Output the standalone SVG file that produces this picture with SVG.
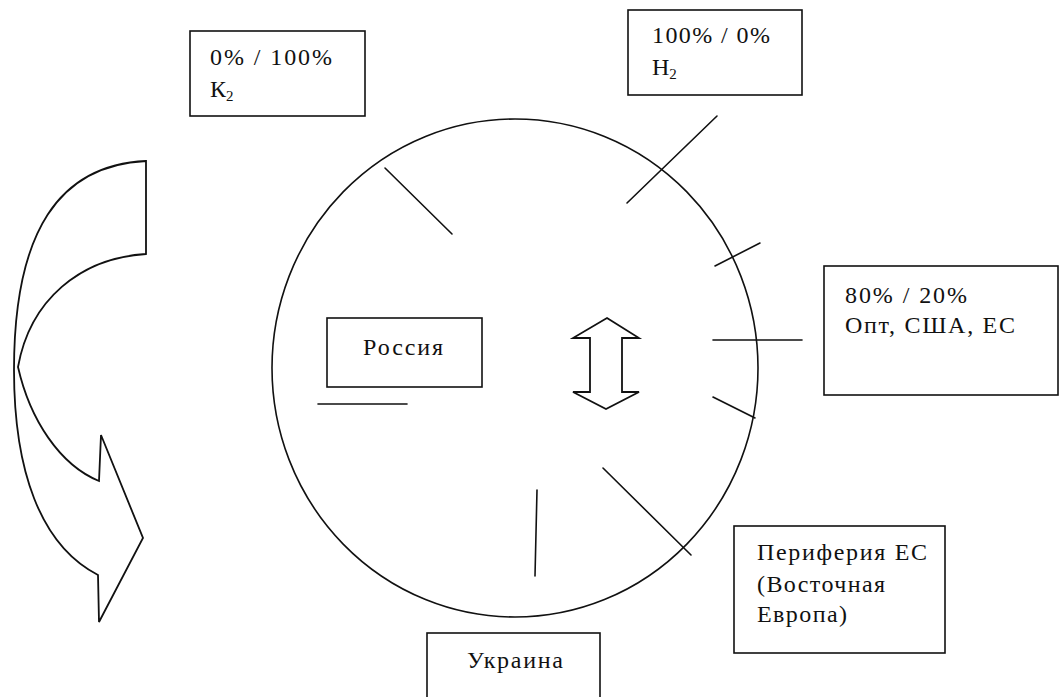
<svg xmlns="http://www.w3.org/2000/svg" width="1061" height="697" viewBox="0 0 1061 697">
<style>
.box{fill:#fff;stroke:#111;stroke-width:1.6}
.ln{fill:none;stroke:#111;stroke-width:1.6;stroke-linecap:round}
.sh{fill:#fff;stroke:#111;stroke-width:1.8;stroke-linejoin:miter}
.t{font-family:'Liberation Serif','Times New Roman','DejaVu Serif',serif;font-size:24px;fill:#111}
.sub{font-size:15px}
</style>
<rect width="1061" height="697" fill="#fff"/>
<g id="circle">
<ellipse cx="515" cy="368" rx="243" ry="249" class="ln"/>
</g>
<g id="curved-arrow">
<path class="sh" d="M146,161 L146,254 C80,258 30,300 18,367 C30,420 60,465 99,481 L101,435 L143,538 L99,622 L98,575 C40,545 14,470 14,370 C14,230 60,165 146,161 Z"/>
</g>
<g id="double-arrow">
<polygon class="sh" points="607,318 639,338 622,338 622,392 639,392 606,409 573,392 590,392 590,338 573,338"/>
</g>
<g id="connectors">
<line class="ln" x1="385" y1="168" x2="452" y2="234"/>
<line class="ln" x1="627" y1="203" x2="717" y2="116"/>
<line class="ln" x1="715" y1="266" x2="760" y2="243"/>
<line class="ln" x1="713" y1="340" x2="802" y2="340"/>
<line class="ln" x1="713" y1="397" x2="755" y2="418"/>
<line class="ln" x1="603" y1="468" x2="691" y2="555"/>
<line class="ln" x1="537" y1="490" x2="535" y2="576"/>
<line class="ln" x1="318" y1="404" x2="407" y2="404"/>
</g>
<g id="node-k2">
<rect class="box" x="190" y="31" width="175" height="85"/>
<text class="t" font-family="Liberation Serif, serif" x="210" y="65" textLength="122" lengthAdjust="spacing">0% / 100%</text>
<text class="t" font-family="Liberation Serif, serif" x="210" y="97">К<tspan class="sub" dy="4">2</tspan></text>
</g>
<g id="node-h2">
<rect class="box" x="628" y="10" width="174" height="85"/>
<text class="t" font-family="Liberation Serif, serif" x="652" y="43" textLength="118" lengthAdjust="spacing">100% / 0%</text>
<text class="t" font-family="Liberation Serif, serif" x="652" y="75">Н<tspan class="sub" dy="4">2</tspan></text>
</g>
<g id="node-opt">
<rect class="box" x="824" y="266" width="234" height="129"/>
<text class="t" font-family="Liberation Serif, serif" x="845" y="303" textLength="122" lengthAdjust="spacing">80% / 20%</text>
<text class="t" font-family="Liberation Serif, serif" x="845" y="333" textLength="170" lengthAdjust="spacing">Опт, США, ЕС</text>
</g>
<g id="node-russia">
<rect class="box" x="327" y="318" width="155" height="69"/>
<text class="t" font-family="Liberation Serif, serif" x="363" y="355" textLength="80" lengthAdjust="spacing">Россия</text>
</g>
<g id="node-periphery">
<rect class="box" x="734" y="526" width="211" height="127"/>
<text class="t" font-family="Liberation Serif, serif" x="757" y="560" textLength="170" lengthAdjust="spacing">Периферия ЕС</text>
<text class="t" font-family="Liberation Serif, serif" x="757" y="592" textLength="128" lengthAdjust="spacing">(Восточная</text>
<text class="t" font-family="Liberation Serif, serif" x="757" y="622" textLength="90" lengthAdjust="spacing">Европа)</text>
</g>
<g id="node-ukraine">
<rect class="box" x="427" y="633" width="173" height="70"/>
<text class="t" font-family="Liberation Serif, serif" x="467" y="668" textLength="96" lengthAdjust="spacing">Украина</text>
</g>
</svg>
